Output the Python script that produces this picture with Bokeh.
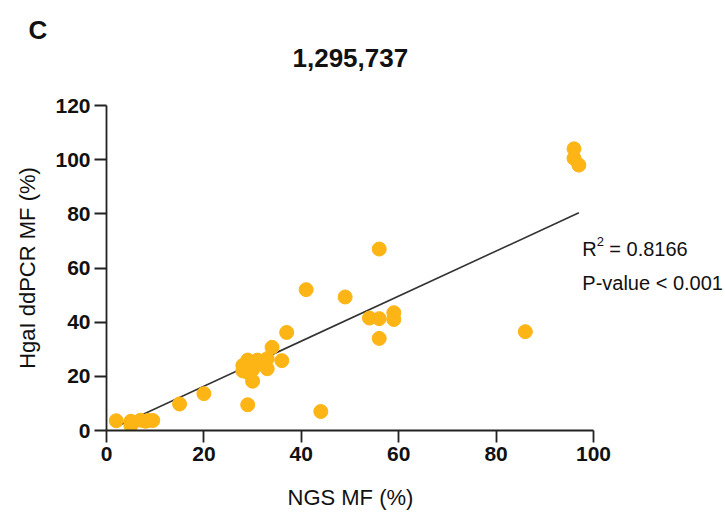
from bokeh.plotting import figure
from bokeh.models import Range1d, Label, FixedTicker, ColumnDataSource, Title
from bokeh.embed import file_html
from bokeh.resources import INLINE

# ---- data ----
ngs_mf = [2, 5, 5, 7, 8, 8.5, 9.5, 15, 20,
          28, 28, 28.5, 29, 29, 29.5, 30, 30, 31, 32, 33, 33, 29,
          34, 36, 37, 41, 44, 49, 54, 56, 56, 56, 59, 59, 86, 96, 96, 97]
hgai_mf = [3.6, 3.4, 1.8, 3.8, 3.4, 3.7, 3.7, 9.8, 13.6,
           24, 22, 23, 26, 21.5, 24.5, 22.5, 18.2, 26, 25, 26.5, 22.8, 9.5,
           30.7, 25.8, 36.2, 52, 7, 49.3, 41.5, 41.3, 34, 67, 43.5, 41, 36.5, 104, 100.5, 98]
fit_x = [2, 97]
fit_y = [1.4, 80.4]
x_ticks = [0, 20, 40, 60, 80, 100]
y_ticks = [0, 20, 40, 60, 80, 100, 120]
title_text = "1,295,737"
panel_letter = "C"
x_label = "NGS MF (%)"
y_label = "HgaI ddPCR MF (%)"
r2_text = "= 0.8166"
p_text = "P-value < 0.001"

FONT = "Liberation Sans"
DOT = "#FCB515"
INK = "#111111"

# frame: x 106..725 px (0..100 -> 106..593), y 105..430 px (0..120)
XPX = 4.87
p = figure(width=725, height=518, output_backend="svg", toolbar_location=None,
           frame_width=619, frame_height=325,
           x_range=Range1d(0, 619 / XPX), y_range=Range1d(0, 120),
           min_border_left=106, min_border_right=0,
           min_border_top=105, min_border_bottom=88)
p.xgrid.visible = False
p.ygrid.visible = False
p.outline_line_color = None
p.background_fill_color = "white"
p.border_fill_color = "white"

# panel letter (outermost title)
p.title.text = panel_letter
p.title.align = "left"
p.title.offset = -78
p.title.text_font = FONT
p.title.text_font_size = "26px"
p.title.text_font_style = "bold"
p.title.text_color = INK
p.title.standoff = -74

# main title, centred over the x axis 0..100 (left-aligned with offset)
p.add_layout(Title(text=title_text, align="left", offset=186,
                   text_font=FONT, text_font_size="26px", text_font_style="bold",
                   text_color=INK, standoff=78), "above")

p.xaxis.ticker = FixedTicker(ticks=x_ticks)
p.yaxis.ticker = FixedTicker(ticks=y_ticks)
p.xaxis.bounds = (0, 100)
for ax in (p.xaxis, p.yaxis):
    ax.axis_line_width = 1.8
    ax.axis_line_color = "#222222"
    ax.major_tick_line_width = 1.8
    ax.major_tick_line_color = "#222222"
    ax.major_tick_out = 12
    ax.major_tick_in = 0
    ax.minor_tick_out = 0
    ax.minor_tick_in = 0
    ax.major_label_text_font = FONT
    ax.major_label_text_font_size = "21px"
    ax.major_label_text_font_style = "bold"
    ax.major_label_text_color = INK
    ax.major_label_standoff = 4
    ax.axis_label_text_font = FONT
    ax.axis_label_text_font_size = "22px"
    ax.axis_label_text_font_style = "normal"
    ax.axis_label_text_color = INK

p.yaxis.axis_label = y_label
p.yaxis.axis_label_standoff = 12
# x-axis label as a title below, placed so it is centred on 0..100
p.add_layout(Title(text=x_label, align="left", offset=181,
                   text_font=FONT, text_font_size="22px", text_font_style="normal",
                   text_color=INK, standoff=38), "below")

p.line(fit_x, fit_y, line_color="#333333", line_width=1.6)
src = ColumnDataSource(dict(x=ngs_mf, y=hgai_mf))
p.scatter("x", "y", source=src, size=14, fill_color=DOT, line_color=DOT)

rx = 97.7
p.add_layout(Label(x=rx, y=67.0, text="R", text_font=FONT,
                   text_font_size="20px", text_color=INK,
                   text_baseline="alphabetic"))
p.add_layout(Label(x=rx, y=67.0, x_offset=14.5, y_offset=8, text="2", text_font=FONT,
                   text_font_size="13px", text_color=INK,
                   text_baseline="alphabetic"))
p.add_layout(Label(x=rx, y=67.0, x_offset=27, text=r2_text, text_font=FONT,
                   text_font_size="20px", text_color=INK,
                   text_baseline="alphabetic"))
p.add_layout(Label(x=rx, y=54.3, text=p_text, text_font=FONT,
                   text_font_size="20px", text_color=INK,
                   text_baseline="alphabetic"))

open("out.html", "w").write(file_html(p, INLINE))
